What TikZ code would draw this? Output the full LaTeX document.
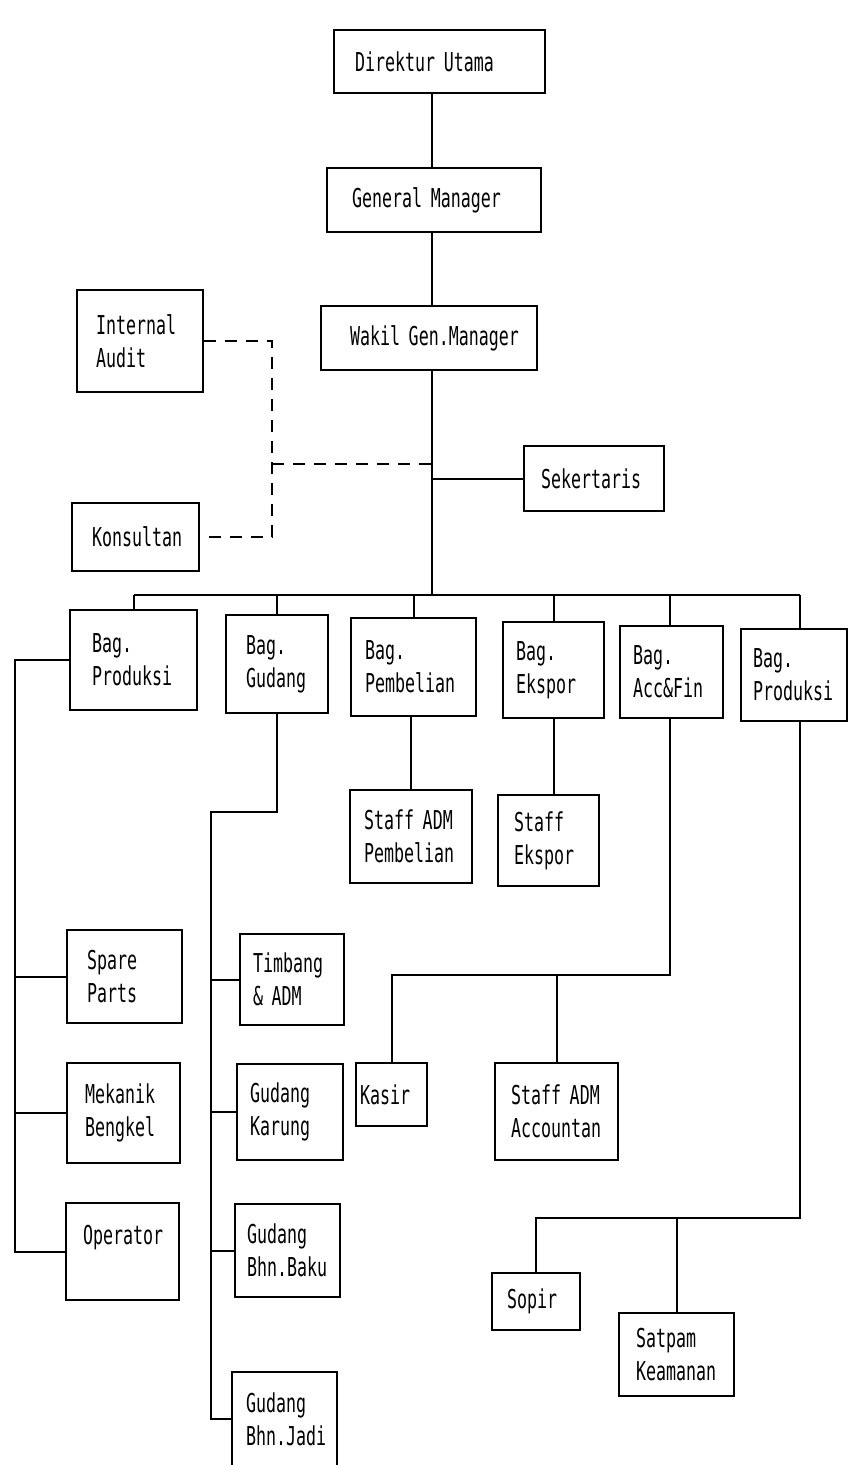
\documentclass[tikz,border=0pt]{standalone}
\usepackage{fontspec}
\newfontfamily\dotfont[FakeStretch=0.64]{DejaVu Sans Mono}
\usetikzlibrary{calc}
\tikzset{
  orgbox/.style n args={3}{draw, line width=2.2pt, minimum width=#1, minimum height=#2,
    inner xsep=#3, inner ysep=2pt, text width=#1-2*#3, align=left,
    font=\dotfont\fontsize{26}{33}\selectfont},
  link/.style={line width=2pt},
  dashlink/.style={line width=2pt, dash pattern=on 12pt off 9pt},
}
\begin{document}
\begin{tikzpicture}[x=1pt,y=-1pt]
\useasboundingbox (0,0) rectangle (847,1465);
% top chain
\node[orgbox={211}{63}{21}] (du) at (439.5,61.5) {Direktur Utama};
\node[orgbox={214}{64}{25}] (gm) at (434,200) {General Manager};
\node[orgbox={216}{64}{18}] (wgm) at (429,338) {\hspace*{11pt}Wakil Gen.Manager};
\node[orgbox={126}{102}{19}] (ia) at (140,341) {Internal\\Audit};
\node[orgbox={127}{68}{20}] (kon) at (135.5,537) {Konsultan};
\node[orgbox={140}{65}{17}] (sek) at (594,478.5) {Sekertaris};
% departments
\node[orgbox={127}{100}{22}] (bp1) at (133.5,660) {Bag.\\Produksi};
\node[orgbox={102}{98}{20}] (bg) at (277,664) {Bag.\\Gudang};
\node[orgbox={125}{98}{14}] (bpb) at (413.5,667) {Bag.\\Pembelian};
\node[orgbox={101}{96}{13}] (be) at (553.5,670) {Bag.\\Ekspor};
\node[orgbox={103}{92}{13}] (baf) at (671.5,672) {Bag.\\Acc\&Fin};
\node[orgbox={106}{92}{12}] (bp2) at (794,675) {Bag.\\Produksi};
% staff
\node[orgbox={122}{93}{14}] (sap) at (411,836.5) {Staff ADM\\Pembelian};
\node[orgbox={101}{91}{16}] (se) at (548.5,840.5) {Staff\\Ekspor};
\node[orgbox={115}{93}{20}] (sp) at (124.5,976.5) {Spare\\Parts};
\node[orgbox={113}{100}{18}] (mb) at (123.5,1113) {Mekanik\\Bengkel};
\node[orgbox={113}{97}{17}] (op) at (122.5,1251.5) {Operator\\~};
\node[orgbox={104}{91}{13}] (ta) at (292,979.5) {Timbang\\\& ADM};
\node[orgbox={106}{96}{13}] (gk) at (290,1112) {Gudang\\Karung};
\node[orgbox={105}{93}{12}] (gbb) at (287.5,1250.5) {Gudang\\Bhn.Baku};
\node[orgbox={105}{94}{14}] (gbj) at (284.5,1419) {Gudang\\Bhn.Jadi};
\node[orgbox={71}{63}{4}] (kas) at (391.5,1094.5) {Kasir};
\node[orgbox={123}{97}{16}] (sac) at (556.5,1111.5) {Staff ADM\\Accountan};
\node[orgbox={88}{57}{15}] (sop) at (536,1301.5) {Sopir};
\node[orgbox={115}{83}{17}] (sat) at (676.5,1354.5) {Satpam\\Keamanan};
% helper coordinates
\coordinate (tx) at (432,595);
\coordinate (dj) at (272,464);
\coordinate (lp) at (15,660);
\coordinate (gx) at (211,812);
\coordinate (ay) at (670,975);
\coordinate (rx) at (800,1218);
% top connectors
\draw[link] (du.south -| tx) -- (gm.north -| tx);
\draw[link] (gm.south -| tx) -- (wgm.north -| tx);
\draw[link] (wgm.south -| tx) -- (tx);
\draw[link] (sek.west) -- (sek.west -| tx);
\draw[dashlink] (ia.east) -| (kon.east -| dj) -- (kon.east);
\draw[dashlink] (dj) -- (dj -| tx);
% bus
\draw[link] (bp1.north |- tx) -- (rx |- tx);
\draw[link] (bp1.north) -- (bp1.north |- tx);
\draw[link] (bg.north) -- (bg.north |- tx);
\draw[link] (bpb.north) -- (bpb.north |- tx);
\draw[link] (be.north) -- (be.north |- tx);
\draw[link] (ay |- baf.north) -- (ay |- tx);
\draw[link] (rx |- bp2.north) -- (rx |- tx);
% produksi left
\draw[link] (bp1.west) -- (bp1.west -| lp) -- (op.west -| lp) -- (op.west);
\draw[link] (sp.west) -- (sp.west -| lp);
\draw[link] (mb.west) -- (mb.west -| lp);
% gudang
\draw[link] (bg.south) -- (bg.south |- gx) -- (gx) -- (gbj.west -| gx) -- (gbj.west);
\draw[link] (ta.west) -- (ta.west -| gx);
\draw[link] (gk.west) -- (gk.west -| gx);
\draw[link] (gbb.west) -- (gbb.west -| gx);
% pembelian, ekspor
\draw[link] (sap.north) -- (sap.north |- bpb.south);
\draw[link] (be.south) -- (be.south |- se.north);
% acc & fin
\draw[link] (ay |- baf.south) -- (ay) -- (kas.north |- ay) -- (kas.north);
\draw[link] (sac.north) -- (sac.north |- ay);
% produksi right
\draw[link] (rx |- bp2.south) -- (rx) -- (sop.north |- rx) -- (sop.north);
\draw[link] (sat.north) -- (sat.north |- rx);
\end{tikzpicture}
\end{document}
